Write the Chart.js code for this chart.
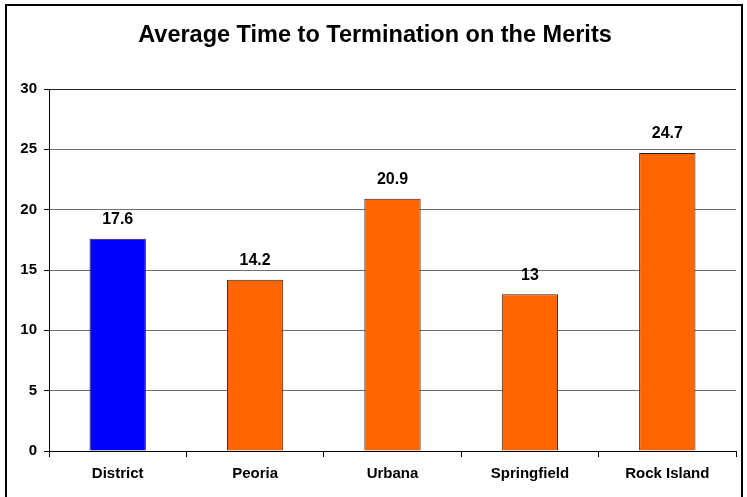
<!DOCTYPE html>
<html>
<head>
<meta charset="utf-8">
<script src="https://cdn.jsdelivr.net/npm/chart.js@4.4.0/dist/chart.umd.min.js"></script>
<style>
  html, body { margin: 0; padding: 0; background: #fff; }
  #wrap { position: relative; width: 747px; height: 497px; }
</style>
</head>
<body>
<div id="wrap"><canvas id="chart"></canvas></div>
<script>
// Chart data
const categories = ['District', 'Peoria', 'Urbana', 'Springfield', 'Rock Island'];
const values = [17.6, 14.2, 20.9, 13, 24.7];
const barColors = ['#0000ff', '#ff6600', '#ff6600', '#ff6600', '#ff6600'];
const yTicks = [0, 5, 10, 15, 20, 25, 30];
const titleText = 'Average Time to Termination on the Merits';

const fontFam = "'Liberation Sans', Arial, sans-serif";
const textColor = '#000000';

// outer frame and centred title (the frame's bottom edge falls off the canvas)
const framePlugin = {
    id: 'frame',
    beforeDraw(chart) {
        const ctx = chart.ctx;
        ctx.save();
        ctx.fillStyle = '#ffffff';
        ctx.fillRect(0, 0, chart.width, chart.height);
        ctx.strokeStyle = '#000000';
        ctx.lineWidth = 2;
        ctx.strokeRect(6, 5, 736, 500);
        ctx.font = 'bold 23.5px ' + fontFam;
        ctx.fillStyle = textColor;
        ctx.textAlign = 'center';
        ctx.textBaseline = 'middle';
        ctx.fillText(titleText, 375, 36);
        ctx.restore();
    }
};

// value labels above bars
const valueLabels = {
    id: 'valueLabels',
    afterDatasetsDraw(chart) {
        const ctx = chart.ctx;
        const meta = chart.getDatasetMeta(0);
        ctx.save();
        ctx.font = 'bold 16px ' + fontFam;
        ctx.fillStyle = textColor;
        ctx.textAlign = 'center';
        ctx.textBaseline = 'middle';
        meta.data.forEach((bar, i) => {
            ctx.fillText(String(values[i]), bar.x, bar.y - 19);
        });
        ctx.restore();
    }
};

new Chart(document.getElementById('chart'), {
    type: 'bar',
    data: {
        labels: categories,
        datasets: [{
            data: values,
            backgroundColor: barColors,
            borderColor: '#222222',
            borderWidth: 1,
            categoryPercentage: 1,
            barPercentage: 0.41
        }]
    },
    options: {
        responsive: true,
        maintainAspectRatio: false,
        animation: false,
        layout: { padding: { left: 0, right: 11, top: 89, bottom: 0 } },
        plugins: {
            legend: { display: false },
            tooltip: { enabled: false },
            title: { display: false }
        },
        scales: {
            y: {
                min: 0,
                max: 30,
                afterBuildTicks(scale) {
                    scale.ticks = yTicks.map(v => ({ value: v }));
                },
                afterFit(scale) { scale.width = 49; },
                grid: {
                    color: (c) => c.tick && c.tick.value === 30 ? '#222' : '#6e6e6e',
                    lineWidth: 1,
                    tickLength: 5,
                    tickColor: '#000'
                },
                border: { color: '#000', width: 1 },
                ticks: {
                    color: textColor,
                    padding: 7,
                    font: { family: fontFam, size: 15, weight: 'bold' }
                }
            },
            x: {
                afterFit(scale) { scale.height = 46; },
                grid: { drawOnChartArea: false, offset: true, tickLength: 6, color: '#000' },
                border: { color: '#000', width: 1 },
                ticks: {
                    color: textColor,
                    padding: 8,
                    font: { family: fontFam, size: 15, weight: 'bold' }
                }
            }
        }
    },
    plugins: [framePlugin, valueLabels]
});
</script>
</body>
</html>
